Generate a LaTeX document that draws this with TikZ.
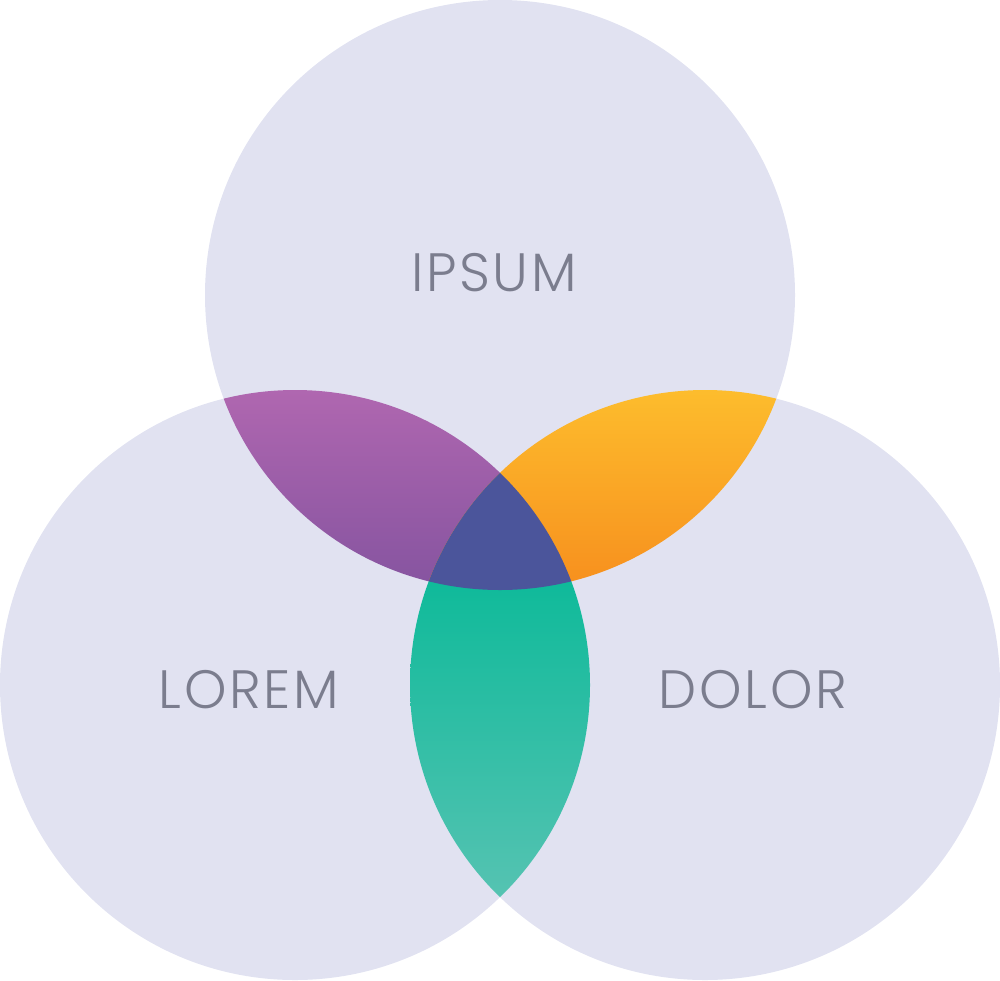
\documentclass[tikz,border=0pt]{standalone}
\usepackage{fontspec}
\newfontfamily\lblfont{Poppins}[UprightFont={* Light}, LetterSpace=5]
\definecolor{circ}{HTML}{E1E2F1}
\definecolor{txt}{HTML}{7B7D8E}
\definecolor{purpT}{HTML}{B067B0}
\definecolor{purpB}{HTML}{8654A0}
\definecolor{orT}{HTML}{FDBD2D}
\definecolor{orB}{HTML}{F7901E}
\definecolor{grT}{HTML}{0FBA9A}
\definecolor{grB}{HTML}{56C3B2}
\definecolor{mid}{HTML}{4B559B}
\tikzset{lbl/.style={text=txt, font=\lblfont\fontsize{54}{54}\selectfont, inner sep=0pt}}
\begin{document}
\begin{tikzpicture}[x=1pt,y=-1pt]
\useasboundingbox (0,0) rectangle (1000,980);
\def\R{295}
\coordinate (T) at (500,295);
\coordinate (L) at (295,685);
\coordinate (Rc) at (705,685);
\fill[circ] (T) circle (\R);
\fill[circ] (L) circle (\R);
\fill[circ] (Rc) circle (\R);
% purple lens
\begin{scope}
\clip (T) circle (\R);
\clip (L) circle (\R);
\shade[top color=purpT, bottom color=purpB] (200,388) rectangle (600,585);
\end{scope}
% orange lens
\begin{scope}
\clip (T) circle (\R);
\clip (Rc) circle (\R);
\shade[top color=orT, bottom color=orB] (400,388) rectangle (800,585);
\end{scope}
% green lens
\begin{scope}
\clip (L) circle (\R);
\clip (Rc) circle (\R);
\shade[top color=grT, bottom color=grB] (400,580) rectangle (600,900);
\end{scope}
% centre
\begin{scope}
\clip (T) circle (\R);
\clip (L) circle (\R);
\fill[mid] (Rc) circle (\R);
\end{scope}
\node[lbl] (ipsum) at (494,273) {IPSUM};
\node[lbl] (lorem) at (249,690) {LOREM};
\node[lbl] (dolor) at (753,690) {DOLOR};
\end{tikzpicture}
\end{document}
